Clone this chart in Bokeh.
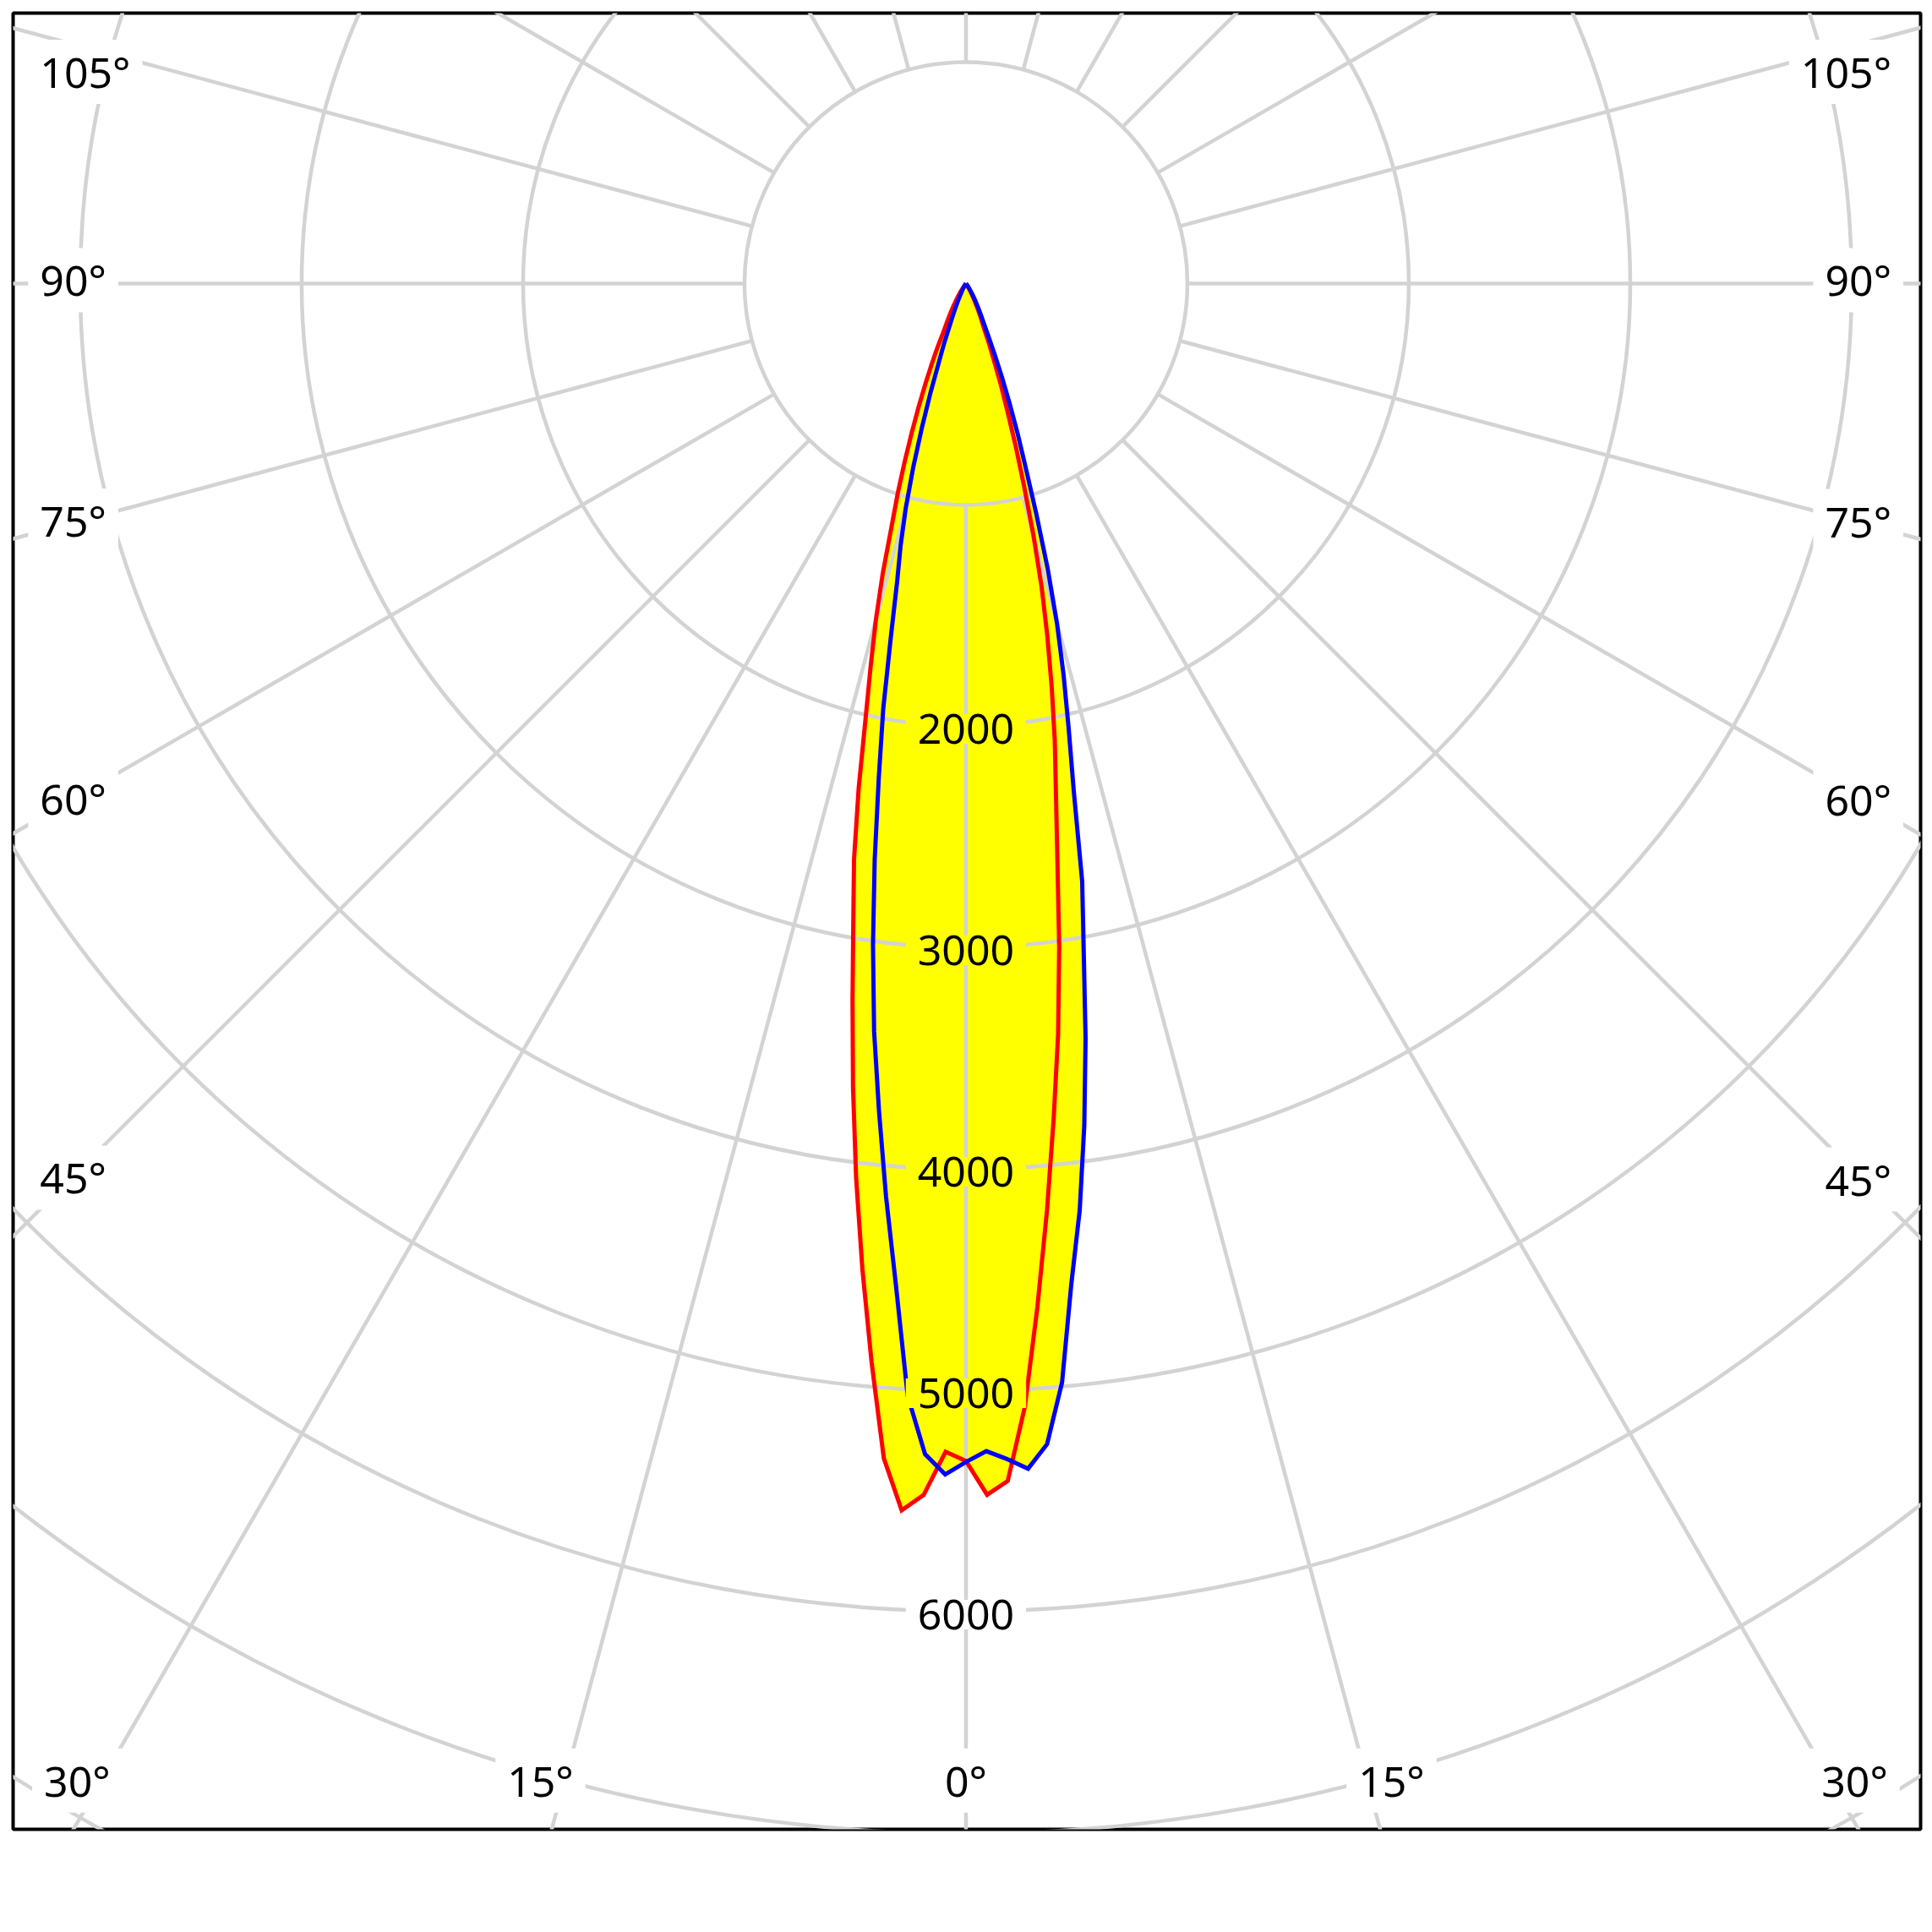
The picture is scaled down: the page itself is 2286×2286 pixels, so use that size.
import numpy as np
from bokeh.plotting import figure
from bokeh.models import Range1d
from bokeh.core.properties import value
from bokeh.embed import file_html
from bokeh.resources import INLINE

# ---------------- data ----------------
# angle from nadir in degrees; negative = left half of the diagram
angles = list(range(-40, 41))

# red curve (C0-C180 plane), cd, angles -40 .. 40
c0_c180 = [
    0, 0, 3, 8, 15, 24, 34, 46, 60, 77,          # -40 .. -31
    96, 118, 142, 170, 200, 236, 318, 396, 490, 594,   # -30 .. -21
    713, 849, 997, 1150, 1364, 1571, 1777, 2014, 2330, 2649,  # -20 .. -11
    2930, 3274, 3665, 4070, 4475, 4890, 5318, 5548, 5474, 5277,  # -10 .. -1
    5318,                                         # 0
    5471, 5411, 5080, 4630, 4200, 3790, 3415, 3025, 2640, 2340,  # 1 .. 10
    2102, 1862, 1633, 1413, 1177, 953, 768, 605, 483, 369,       # 11 .. 20
    287, 215, 178, 148, 122, 98, 77, 60, 46, 35,                 # 21 .. 30
    26, 18, 12, 7, 3, 0, 0, 0, 0, 0,                             # 31 .. 40
]

# blue curve (C90-C270 plane), cd, angles -40 .. 40
c90_c270 = [
    0, 0, 0, 0, 0, 0, 2, 5, 9, 14,               # -40 .. -31
    20, 26, 34, 44, 56, 76, 100, 128, 163, 210,  # -30 .. -21
    290, 374, 516, 679, 863, 1050, 1220, 1381, 1630, 1958,     # -20 .. -11
    2267, 2634, 3016, 3403, 3757, 4140, 4534, 5030, 5290, 5379,  # -10 .. -1
    5322,                                         # 0
    5274, 5312, 5360, 5254, 4981, 4548, 4216, 3840, 3453, 3063,  # 1 .. 10
    2751, 2341, 2062, 1823, 1588, 1338, 1083, 870, 717, 574,     # 11 .. 20
    454, 349, 261, 205, 168, 140, 116, 97, 80, 64,               # 21 .. 30
    50, 37, 26, 17, 10, 4, 0, 0, 0, 0,                           # 31 .. 40
]

ring_values = [1000, 2000, 3000, 4000, 5000, 6000, 7000, 8000]
ring_labels = ["2000", "3000", "4000", "5000", "6000"]
spoke_angles = list(range(0, 360, 15))
angle_labels = [0, 15, 30, 45, 60, 75, 90, 105]

# ---------------- layout ----------------
X0, X1, Y0, Y1 = -4303, 4311, -6981, 1221
GRID = "#d3d3d3"
FONT = value("Noto Sans")
FSIZE = "50px"

p = figure(width=2279, height=2171,
           x_range=Range1d(X0, X1), y_range=Range1d(Y0, Y1),
           output_backend="svg", toolbar_location=None,
           x_axis_type=None, y_axis_type=None,
           min_border_left=15, min_border_right=7,
           min_border_top=15, min_border_bottom=7)
p.grid.visible = False
p.outline_line_color = "black"
p.outline_line_width = 4
p.background_fill_color = "white"
p.border_fill_color = "white"

th = np.radians(angles)


def to_xy(vals):
    r = np.array(vals, dtype=float)
    return r * np.sin(th), -r * np.cos(th)


rx, ry = to_xy(c0_c180)
bx, by = to_xy(c90_c270)

# yellow union fill
p.patch(rx, ry, fill_color="#ffff00", line_color=None)
p.patch(bx, by, fill_color="#ffff00", line_color=None)

# polar grid
p.circle(x=[0] * len(ring_values), y=[0] * len(ring_values), radius=ring_values,
         fill_color=None, line_color=GRID, line_width=4.5)
sa = np.radians(spoke_angles)
r_in, r_out = ring_values[0], 20000
p.segment(x0=r_in * np.sin(sa), y0=-r_in * np.cos(sa),
          x1=r_out * np.sin(sa), y1=-r_out * np.cos(sa),
          line_color=GRID, line_width=4.5)

# curves
p.line(rx, ry, line_color="#ff0000", line_width=5, line_join="miter")
p.line(bx, by, line_color="#0000ff", line_width=5, line_join="miter")

# ring value labels
peak0 = max(c0_c180[angles.index(0)], c90_c270[angles.index(0)])
for lab in ring_labels:
    v = float(lab)
    bg = "#ffff00" if v < peak0 else "white"
    p.text(x=[0], y=[-v - 12], text=[lab], text_font=FONT, text_font_size=FSIZE,
           text_color="black", text_align="center", text_baseline="middle",
           background_fill_color=bg,
           padding=dict(left=14, right=14, top=0, bottom=0))

# angle labels
SIDE_IN = 250      # distance (data units) of side labels' centre from frame
BOT_IN = 220
TOP_IN = 265
SHIFT = 110
LIFT = 15
for a in angle_labels:
    t = np.radians(a)
    s, c = np.sin(t), np.cos(t)
    for side in ([1] if a == 0 else [-1, 1]):
        xlim = X1 if side > 0 else -X0
        if c > 0 and (-Y0) * s / c <= xlim:
            yb = Y0 + BOT_IN
            r = -yb / c
            xl = side * (r * s + (SHIFT if a else 0))
            yl = yb
            align = "center"
        else:
            xc = xlim - SIDE_IN
            yl = -xc * c / s
            yl = min(max(yl + LIFT, Y0 + BOT_IN), Y1 - TOP_IN)
            if side < 0:
                xl, align = X0 + 68, "left"
            else:
                xl, align = X1 - 78, "right"
        p.text(x=[xl], y=[yl], text=[f"{a}°"], text_font=FONT, text_font_size=FSIZE,
               text_color="black", text_align=align, text_baseline="middle",
               background_fill_color="white",
               padding=dict(left=14, right=14, top=4, bottom=4))

open("out.html", "w").write(file_html(p, INLINE))
